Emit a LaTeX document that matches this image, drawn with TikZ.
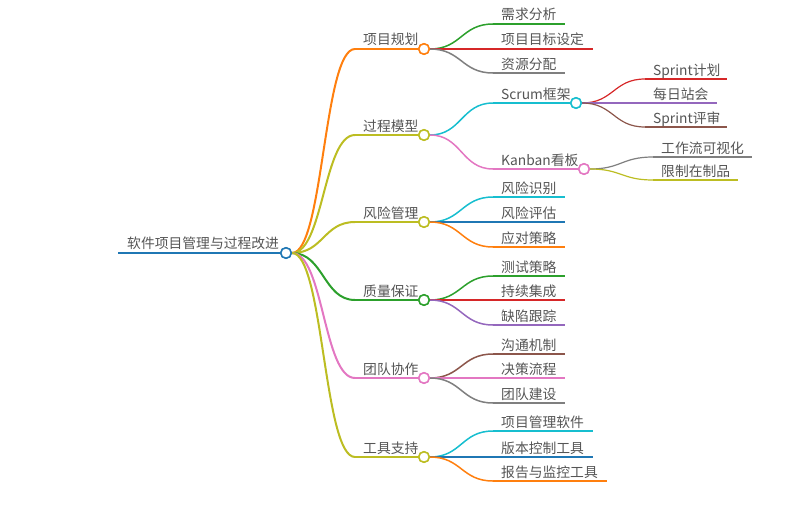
\documentclass[tikz,border=0pt]{standalone}
\usepackage{fontspec}
\setmainfont{Noto Sans CJK SC}
\usetikzlibrary{calc}
\definecolor{cOrange}{HTML}{FF7F0E}
\definecolor{cOlive}{HTML}{BCBD22}
\definecolor{cGreen}{HTML}{2CA02C}
\definecolor{cRed}{HTML}{D62728}
\definecolor{cPurple}{HTML}{9467BD}
\definecolor{cBrown}{HTML}{8C564B}
\definecolor{cPink}{HTML}{E377C2}
\definecolor{cGray}{HTML}{7F7F7F}
\definecolor{cCyan}{HTML}{17BECF}
\definecolor{cBlue}{HTML}{1F77B4}
\definecolor{cText}{HTML}{555555}
\newcommand\mmedge[4]{\draw[#1,line width=#2] let \p1=(#3),\p2=(#4) in (#3) .. controls ({0.5*\x1+0.5*\x2},\y1) and ({0.5*\x1+0.5*\x2},\y2) .. (#4);}
\tikzset{
  dot/.style={circle,draw=#1,fill=white,minimum size=10.5pt,inner sep=0pt,line width=1.5pt},
  lbl/.style={anchor=base west,inner sep=0pt,text=cText,font=\fontsize{13.8pt}{15pt}\selectfont},
  lA/.style={line width=2pt},
  lB/.style={line width=1.5pt},
  lC/.style={line width=1.2pt},
}
\begin{document}
\begin{tikzpicture}[x=1pt,y=-1pt]
\useasboundingbox (0,0) rectangle (802,511);
% ---- coordinates ----
\coordinate (r0) at (118,253);
\node[dot=cBlue] (root) at (286,253) {};
\node[lbl] (rootT) at (127,248) {软件项目管理与过程改进};
% level 1 positions
\coordinate (s1) at (355,49);  \node[dot=cOrange] (n1) at (424,49) {};
\coordinate (s2) at (355,135); \node[dot=cOlive] (n2) at (424,135) {};
\coordinate (s3) at (355,222); \node[dot=cOlive] (n3) at (424,222) {};
\coordinate (s4) at (355,300); \node[dot=cGreen] (n4) at (424,300) {};
\coordinate (s5) at (355,378); \node[dot=cPink] (n5) at (424,378) {};
\coordinate (s6) at (355,457); \node[dot=cOlive] (n6) at (424,457) {};
% level 2 Scrum/Kanban
\coordinate (sS) at (493,103); \node[dot=cCyan] (nS) at (576,103) {};
\coordinate (sK) at (493,169); \node[dot=cPink] (nK) at (584,169) {};
% leaves: start and end coordinates
\coordinate (a1) at (493,24);  \coordinate (a1e) at (565,24);
\coordinate (a2) at (493,49);  \coordinate (a2e) at (593,49);
\coordinate (a3) at (493,73);  \coordinate (a3e) at (565,73);
\coordinate (b1) at (645,79);  \coordinate (b1e) at (727,79);
\coordinate (b2) at (645,103); \coordinate (b2e) at (717,103);
\coordinate (b3) at (645,127); \coordinate (b3e) at (727,127);
\coordinate (k1) at (653,157); \coordinate (k1e) at (752,157);
\coordinate (k2) at (653,180); \coordinate (k2e) at (738,180);
\coordinate (c1) at (493,197); \coordinate (c1e) at (565,197);
\coordinate (c2) at (493,222); \coordinate (c2e) at (565,222);
\coordinate (c3) at (493,247); \coordinate (c3e) at (565,247);
\coordinate (d1) at (493,276); \coordinate (d1e) at (565,276);
\coordinate (d2) at (493,300); \coordinate (d2e) at (565,300);
\coordinate (d3) at (493,325); \coordinate (d3e) at (565,325);
\coordinate (e1) at (493,354); \coordinate (e1e) at (565,354);
\coordinate (e2) at (493,378); \coordinate (e2e) at (565,378);
\coordinate (e3) at (493,403); \coordinate (e3e) at (565,403);
\coordinate (f1) at (493,431); \coordinate (f1e) at (593,431);
\coordinate (f2) at (493,457); \coordinate (f2e) at (593,457);
\coordinate (f3) at (493,481); \coordinate (f3e) at (607,481);
% ---- root line and edges ----
\draw[cBlue,line width=2.5pt] (r0) -- (root.west);
\mmedge{cOrange}{2pt}{root.east}{s1} \draw[cOrange,lA] (s1) -- (n1.west);
\mmedge{cOlive}{2pt}{root.east}{s2}  \draw[cOlive,lA] (s2) -- (n2.west);
\mmedge{cOlive}{2pt}{root.east}{s3}  \draw[cOlive,lA] (s3) -- (n3.west);
\mmedge{cGreen}{2pt}{root.east}{s4}  \draw[cGreen,lA] (s4) -- (n4.west);
\mmedge{cPink}{2pt}{root.east}{s5}   \draw[cPink,lA] (s5) -- (n5.west);
\mmedge{cOlive}{2pt}{root.east}{s6}  \draw[cOlive,lA] (s6) -- (n6.west);
% 项目规划
\mmedge{cGreen}{1.5pt}{n1.east}{a1} \draw[cGreen,lB] (a1) -- (a1e);
\mmedge{cRed}{1.5pt}{n1.east}{a2}   \draw[cRed,lB] (a2) -- (a2e);
\mmedge{cGray}{1.5pt}{n1.east}{a3}  \draw[cGray,lB] (a3) -- (a3e);
% 过程模型
\mmedge{cCyan}{1.5pt}{n2.east}{sS} \draw[cCyan,lB] (sS) -- (nS.west);
\mmedge{cPink}{1.5pt}{n2.east}{sK} \draw[cPink,lB] (sK) -- (nK.west);
\mmedge{cRed}{1.2pt}{nS.east}{b1}    \draw[cRed,lC] (b1) -- (b1e);
\mmedge{cPurple}{1.2pt}{nS.east}{b2} \draw[cPurple,lC] (b2) -- (b2e);
\mmedge{cBrown}{1.2pt}{nS.east}{b3}  \draw[cBrown,lC] (b3) -- (b3e);
\mmedge{cGray}{1.2pt}{nK.east}{k1}   \draw[cGray,lC] (k1) -- (k1e);
\mmedge{cOlive}{1.2pt}{nK.east}{k2}  \draw[cOlive,lC] (k2) -- (k2e);
% 风险管理
\mmedge{cCyan}{1.5pt}{n3.east}{c1}   \draw[cCyan,lB] (c1) -- (c1e);
\mmedge{cBlue}{1.5pt}{n3.east}{c2}   \draw[cBlue,lB] (c2) -- (c2e);
\mmedge{cOrange}{1.5pt}{n3.east}{c3} \draw[cOrange,lB] (c3) -- (c3e);
% 质量保证
\mmedge{cGreen}{1.5pt}{n4.east}{d1}  \draw[cGreen,lB] (d1) -- (d1e);
\mmedge{cRed}{1.5pt}{n4.east}{d2}    \draw[cRed,lB] (d2) -- (d2e);
\mmedge{cPurple}{1.5pt}{n4.east}{d3} \draw[cPurple,lB] (d3) -- (d3e);
% 团队协作
\mmedge{cBrown}{1.5pt}{n5.east}{e1}  \draw[cBrown,lB] (e1) -- (e1e);
\mmedge{cPink}{1.5pt}{n5.east}{e2}   \draw[cPink,lB] (e2) -- (e2e);
\mmedge{cGray}{1.5pt}{n5.east}{e3}   \draw[cGray,lB] (e3) -- (e3e);
% 工具支持
\mmedge{cCyan}{1.5pt}{n6.east}{f1}   \draw[cCyan,lB] (f1) -- (f1e);
\mmedge{cBlue}{1.5pt}{n6.east}{f2}   \draw[cBlue,lB] (f2) -- (f2e);
\mmedge{cOrange}{1.5pt}{n6.east}{f3} \draw[cOrange,lB] (f3) -- (f3e);
% redraw circles on top
\foreach \n/\c in {root/cBlue,n1/cOrange,n2/cOlive,n3/cOlive,n4/cGreen,n5/cPink,n6/cOlive,nS/cCyan,nK/cPink}
  \draw[\c,fill=white,line width=1.5pt] (\n) circle (5.25pt);
% ---- labels ----
\node[lbl] (t1) at ($(s1)+(8,-4)$) {项目规划};
\node[lbl] (t2) at ($(s2)+(8,-4)$) {过程模型};
\node[lbl] (t3) at ($(s3)+(8,-4)$) {风险管理};
\node[lbl] (t4) at ($(s4)+(8,-4)$) {质量保证};
\node[lbl] (t5) at ($(s5)+(8,-4)$) {团队协作};
\node[lbl] (t6) at ($(s6)+(8,-4)$) {工具支持};
\node[lbl] (tS) at ($(sS)+(8,-4)$) {Scrum框架};
\node[lbl] (tK) at ($(sK)+(8,-4)$) {Kanban看板};
\node[lbl] at ($(a1)+(8,-4)$) {需求分析};
\node[lbl] at ($(a2)+(8,-4)$) {项目目标设定};
\node[lbl] at ($(a3)+(8,-4)$) {资源分配};
\node[lbl] at ($(b1)+(8,-4)$) {Sprint计划};
\node[lbl] at ($(b2)+(8,-4)$) {每日站会};
\node[lbl] at ($(b3)+(8,-4)$) {Sprint评审};
\node[lbl] at ($(k1)+(8,-4)$) {工作流可视化};
\node[lbl] at ($(k2)+(8,-4)$) {限制在制品};
\node[lbl] at ($(c1)+(8,-4)$) {风险识别};
\node[lbl] at ($(c2)+(8,-4)$) {风险评估};
\node[lbl] at ($(c3)+(8,-4)$) {应对策略};
\node[lbl] at ($(d1)+(8,-4)$) {测试策略};
\node[lbl] at ($(d2)+(8,-4)$) {持续集成};
\node[lbl] at ($(d3)+(8,-4)$) {缺陷跟踪};
\node[lbl] at ($(e1)+(8,-4)$) {沟通机制};
\node[lbl] at ($(e2)+(8,-4)$) {决策流程};
\node[lbl] at ($(e3)+(8,-4)$) {团队建设};
\node[lbl] at ($(f1)+(8,-4)$) {项目管理软件};
\node[lbl] at ($(f2)+(8,-4)$) {版本控制工具};
\node[lbl] at ($(f3)+(8,-4)$) {报告与监控工具};
\end{tikzpicture}
\end{document}
